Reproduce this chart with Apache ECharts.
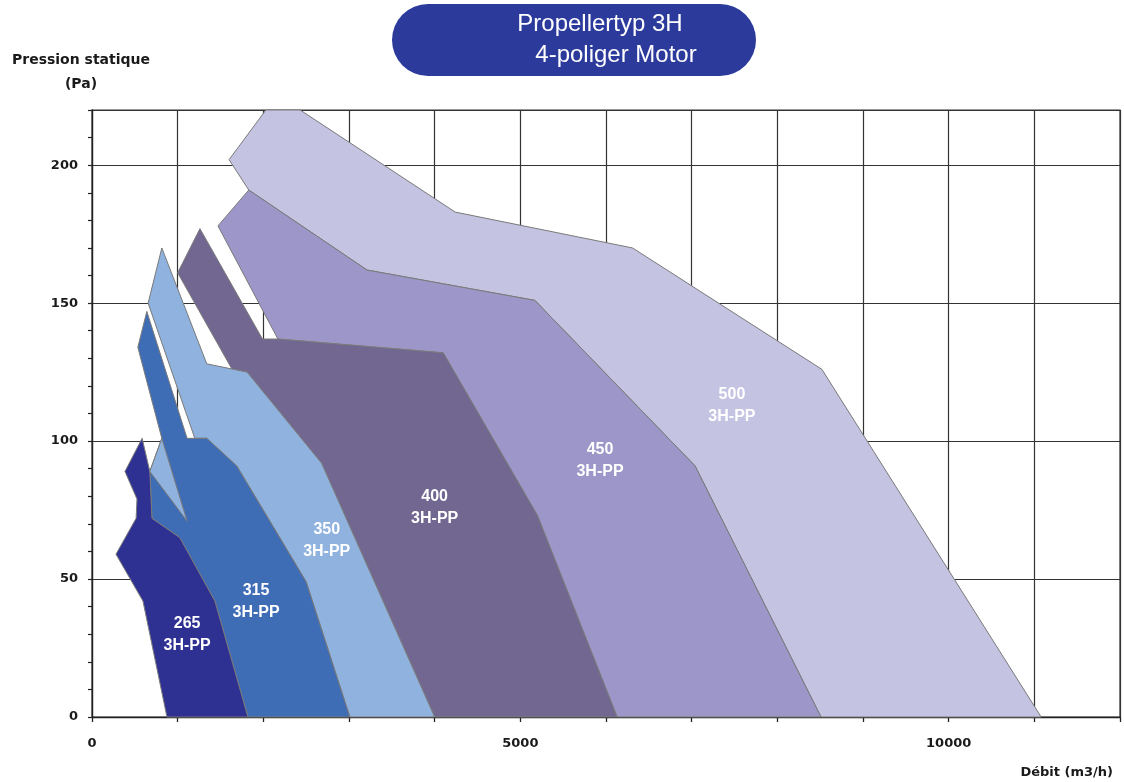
<!DOCTYPE html>
<html>
<head>
<meta charset="utf-8">
<script src="https://cdn.jsdelivr.net/npm/echarts@6/dist/echarts.min.js"></script>
<style>
html,body{margin:0;padding:0;background:#ffffff;}
#chart{width:1124px;height:782px;}
</style>
</head>
<body>
<div id="chart"></div>
<script>
// ---- data (Débit m3/h, Pression Pa) ----
const fanSizes = ['500', '450', '400', '350', '315', '265'];
const xLabelTicks = [0, 5000, 10000];
const yLabelTicks = [0, 50, 100, 150, 200];

const poly500 = [[1600,202],[2030,220],[2430,220],[4240,183],[6310,170],[8520,126],[11080,0],[8510,0],[7040,91],[5170,151],[3210,162],[1830,191]];
const poly450 = [[1830,191],[3210,162],[5170,151],[7040,91],[8510,0],[6130,0],[5200,73],[4100,132],[2170,137],[1470,178]];
const poly400 = [[1260,177],[1990,137],[2170,137],[4100,132],[5200,73],[6130,0],[4000,0],[2680,92],[1810,125],[1635,126],[1000,161]];
const poly350 = [[815,170],[1340,128],[1810,125],[2680,92],[4000,0],[3010,0],[2500,49],[1690,91],[1340,101],[1200,101],[655,150]];
const poly350b = [[815,101],[675,89],[1110,71]];
const poly315 = [[640,147],[1110,101],[1340,101],[1690,91],[2500,49],[3010,0],[1820,0],[1435,42],[1025,65],[700,72],[675,89],[815,101],[535,134]];
const poly265 = [[585,101],[675,89],[700,72],[1025,65],[1435,42],[1820,0],[875,0],[595,42],[280,59],[515,72],[525,79],[385,89]];

const fanPolygons = {
  '500': [poly500],
  '450': [poly450],
  '400': [poly400],
  '350': [poly350, poly350b],
  '315': [poly315],
  '265': [poly265]
};
const labelAnchors = {
  '500': [7470,113],
  '450': [5930,93],
  '400': [4000,76],
  '350': [2740,64],
  '315': [1915,42],
  '265': [1110,30]
};

// ---- styles ----
const fanColors = {
  '500': '#c5c3e2',
  '450': '#9c96c9',
  '400': '#716791',
  '350': '#8fb2de',
  '315': '#3e6cb5',
  '265': '#2e3192'
};

const chart = echarts.init(document.getElementById('chart'), null, {renderer: 'canvas'});

const fanSeries = fanSizes.map(name => ({
  type: 'custom',
  name: name,
  coordinateSystem: 'cartesian2d',
  silent: true,
  data: fanPolygons[name].map((p, i) => i),
  renderItem: function (params, api) {
    const poly = fanPolygons[name][params.dataIndex];
    const pts = poly.map(p => api.coord(p));
    return {
      type: 'polygon',
      z2: params.dataIndex,
      shape: {points: pts},
      style: {fill: fanColors[name], stroke: '#7a7a7a', lineWidth: 1}
    };
  }
}));

const labelSeries = {
  type: 'custom',
  name: 'labels',
  coordinateSystem: 'cartesian2d',
  silent: true,
  z: 5,
  data: fanSizes.map((n, i) => i),
  renderItem: function (params, api) {
    const name = fanSizes[params.dataIndex];
    const pt = api.coord(labelAnchors[name]);
    return {
      type: 'text',
      x: pt[0],
      y: pt[1],
      style: {
        text: name + '\n3H-PP',
        fill: '#ffffff',
        font: 'bold 16px "Liberation Sans", Arial, sans-serif',
        align: 'center',
        verticalAlign: 'middle',
        lineHeight: 22
      }
    };
  }
};

const axisFont = {fontFamily: 'DejaVu Sans', fontWeight: 'bold', fontSize: 13, color: '#1a1a1a'};

const option = {
  backgroundColor: '#ffffff',
  animation: false,
  grid: {left: 92, right: 4, top: 110, bottom: 65, show: true, borderColor: '#333', borderWidth: 1.2},
  xAxis: [{
    type: 'value', min: 0, max: 12000, interval: 1000,
    axisLine: {show: true, onZero: false, lineStyle: {color: '#222', width: 1.3}},
    axisTick: {show: true, inside: false, length: 5, lineStyle: {color: '#222', width: 1.3}},
    axisLabel: Object.assign({margin: 20, formatter: v => xLabelTicks.includes(v) ? String(v) : ''}, axisFont),
    splitLine: {show: true, lineStyle: {color: '#333', width: 1.2}}
  }],
  yAxis: [{
    type: 'value', min: 0, max: 220, interval: 10,
    axisLine: {show: true, onZero: false, lineStyle: {color: '#222', width: 1.3}},
    axisTick: {show: true, inside: false, length: 4, lineStyle: {color: '#222', width: 1.2}},
    axisLabel: Object.assign({margin: 14, formatter: v => yLabelTicks.includes(v) ? String(v) : ''}, axisFont),
    splitLine: {show: false}
  }, {
    type: 'value', min: 0, max: 220, interval: 50, position: 'left',
    axisLine: {show: false}, axisTick: {show: false}, axisLabel: {show: false},
    splitLine: {show: true, lineStyle: {color: '#333', width: 1.2}}
  }],
  graphic: [
    {type: 'rect', left: 392, top: 4, shape: {width: 364, height: 72, r: 36}, style: {fill: '#2c3a9b'}, z: 10},
    {type: 'text', x: 600, y: 24, z: 11, style: {text: 'Propellertyp 3H', fill: '#ffffff', font: '24px "Liberation Sans", Arial, sans-serif', align: 'center', verticalAlign: 'middle'}},
    {type: 'text', x: 616, y: 55, z: 11, style: {text: '4-poliger Motor', fill: '#ffffff', font: '24px "Liberation Sans", Arial, sans-serif', align: 'center', verticalAlign: 'middle'}},
    {type: 'text', x: 81, y: 60, z: 11, style: {text: 'Pression statique', fill: '#1a1a1a', font: 'bold 14px "DejaVu Sans", sans-serif', align: 'center', verticalAlign: 'middle'}},
    {type: 'text', x: 81, y: 84, z: 11, style: {text: '(Pa)', fill: '#1a1a1a', font: 'bold 14px "DejaVu Sans", sans-serif', align: 'center', verticalAlign: 'middle'}},
    {type: 'text', x: 1113, y: 773, z: 11, style: {text: 'Débit (m3/h)', fill: '#1a1a1a', font: 'bold 13px "DejaVu Sans", sans-serif', align: 'right', verticalAlign: 'middle'}}
  ],
  series: fanSeries.concat([labelSeries])
};

chart.setOption(option);
</script>
</body>
</html>
